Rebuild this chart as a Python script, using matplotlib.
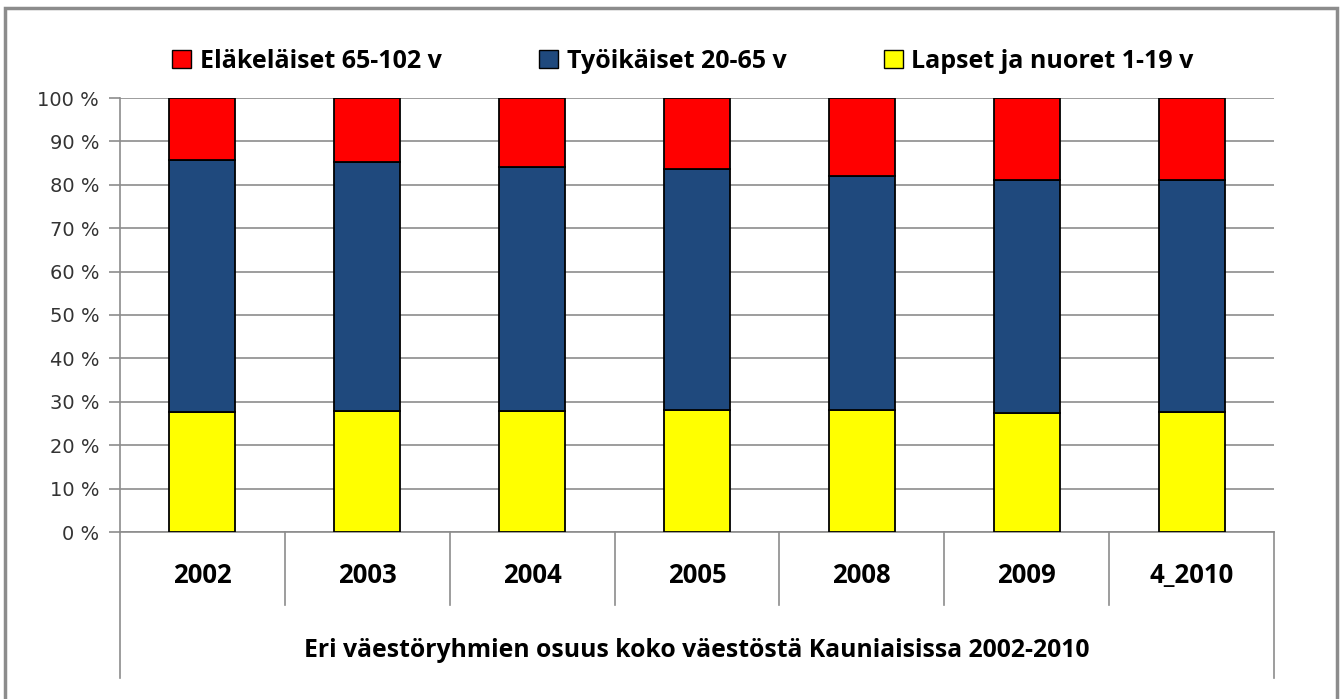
import matplotlib
matplotlib.use("Agg")
import matplotlib.pyplot as plt
from matplotlib.patches import Rectangle, Patch
import numpy as np

categories = ["2002", "2003", "2004", "2005", "2008", "2009", "4_2010"]
lapset = [27.6, 27.9, 27.9, 28.1, 28.1, 27.4, 27.6]
tyoikaiset = [58.1, 57.4, 56.2, 55.5, 53.9, 53.8, 53.4]
elakelaiset = [14.3, 14.7, 15.9, 16.4, 18.0, 18.8, 19.0]
series_names = ["Eläkeläiset 65-102 v", "Työikäiset 20-65 v", "Lapset ja nuoret 1-19 v"]
xlabel = "Eri väestöryhmien osuus koko väestöstä Kauniaisissa 2002-2010"
yticks = [0, 10, 20, 30, 40, 50, 60, 70, 80, 90, 100]

plt.rcParams['font.family'] = ['Open Sans', 'DejaVu Sans']

fig = plt.figure(figsize=(13.4, 6.99), dpi=100)
fig.patches.append(Rectangle((5/1340, -0.01), 1332/1340, 1 - 8/699 + 0.01,
                             transform=fig.transFigure, fill=False,
                             edgecolor="#8c8c8c", linewidth=2.5, zorder=10))
ax = fig.add_axes([120/1340, 1 - 532/699, 1154/1340, 434/699])

x = np.arange(len(categories))
w = 0.4
c_yel, c_blue, c_red = "#ffff00", "#1f497d", "#ff0000"
ax.bar(x, lapset, w, color=c_yel, edgecolor="black", linewidth=1.3, zorder=3)
ax.bar(x, tyoikaiset, w, bottom=lapset, color=c_blue, edgecolor="black", linewidth=1.3, zorder=3)
bottom2 = np.array(lapset) + np.array(tyoikaiset)
ax.bar(x, elakelaiset, w, bottom=bottom2, color=c_red, edgecolor="black", linewidth=1.3, zorder=3)

ax.set_xlim(-0.5, len(categories) - 0.5)
ax.set_ylim(0, 100)
ax.set_yticks(yticks)
ax.set_yticklabels([f"{v} %" for v in yticks], fontsize=14, color="#333333",
                   family=['Liberation Sans Narrow', 'DejaVu Sans'])
ax.yaxis.grid(True, color="#8c8c8c", linewidth=1.2, zorder=0)
ax.set_axisbelow(True)
ax.tick_params(axis='y', length=8, color="#8c8c8c", width=1.2, pad=7)
ax.set_xticks([])
for s in ["top", "right"]:
    ax.spines[s].set_visible(False)
for s in ["left", "bottom"]:
    ax.spines[s].set_color("#8c8c8c")
    ax.spines[s].set_linewidth(1.2)

tr = ax.get_xaxis_transform()
for b in np.arange(0.5, len(categories) - 0.5, 1):
    ax.plot([b, b], [0, -0.168], transform=tr, color="#8c8c8c", lw=1.2, clip_on=False)
for b in [-0.5, len(categories) - 0.5]:
    ax.plot([b, b], [0, -0.336], transform=tr, color="#8c8c8c", lw=1.2, clip_on=False)
for i, c in enumerate(categories):
    ax.text(i, -0.101, c, transform=tr, ha="center", va="center", fontsize=18.5,
            fontweight="bold", color="black")
ax.text((len(categories) - 1) / 2, -0.272, xlabel, transform=tr, ha="center",
        va="center", fontsize=17.8, fontweight="bold", color="black")

handles = [Patch(facecolor=c_red, edgecolor="black"),
           Patch(facecolor=c_blue, edgecolor="black"),
           Patch(facecolor=c_yel, edgecolor="black")]
leg = fig.legend(handles, series_names, loc="center", bbox_to_anchor=(683/1340, 1 - 61/699),
                 ncol=3, frameon=False, prop={'size': 18, 'weight': 'bold'},
                 handlelength=0.75, handleheight=0.75, handletextpad=0.35, columnspacing=3.9)

fig.savefig("out.png", dpi=100, facecolor="white")
